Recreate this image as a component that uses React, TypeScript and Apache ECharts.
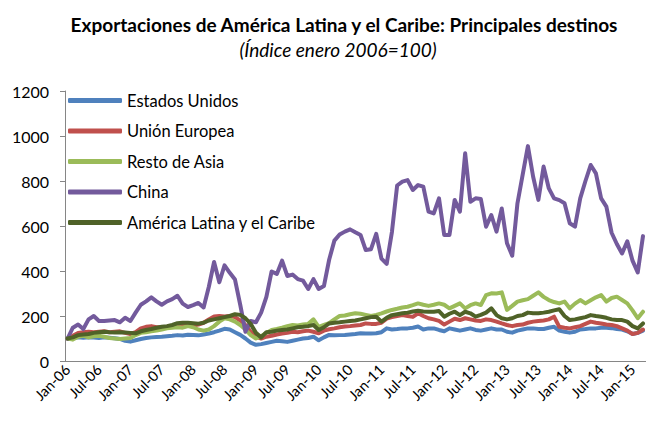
import React, { useEffect, useRef } from "react";
import * as echarts from "echarts";

const monthNames = ["Jan", "Feb", "Mar", "Apr", "May", "Jun", "Jul", "Aug", "Sep", "Oct", "Nov", "Dec"];
const years = [2006, 2007, 2008, 2009, 2010, 2011, 2012, 2013, 2014, 2015];
const lastMonth2015 = 3; // Jan–Mar 2015

const categories: string[] = [];
years.forEach((y) => {
  const n = y === 2015 ? lastMonth2015 : 12;
  for (let m = 0; m < n; m++) categories.push(`${monthNames[m]}-${String(y % 100).padStart(2, "0")}`);
});

const seriesNames = ["Estados Unidos", "Unión Europea", "Resto de Asia", "China", "América Latina y el Caribe"];
const seriesColors = ["#4F81BD", "#C0504D", "#9BBB59", "#735A9C", "#4F6228"];

const estadosUnidos = [
  100, 102, 105, 103, 106, 104, 102, 105, 103, 101, 98, 90,
  86, 92, 98, 102, 105, 107, 108, 110, 112, 115, 113, 117,
  116, 114, 118, 122, 128, 135, 143, 140, 128, 116, 100, 82,
  72, 75, 80, 85, 90, 88, 85, 90, 95, 100, 102, 108,
  92, 105, 116, 114, 115, 116, 118, 120, 123, 122, 122, 123,
  128, 145, 140, 142, 145, 145, 148, 153, 140, 145, 145, 138,
  132, 145, 140, 135, 140, 145, 138, 135, 140, 145, 140, 140,
  130, 126, 135, 140, 145, 145, 142, 142, 148, 152, 135, 130,
  126, 130, 140, 142, 145, 145, 148, 148, 146, 142, 140, 132,
  120, 125, 135,
];

const unionEuropea = [
  100, 112, 125, 128, 130, 128, 130, 132, 128, 130, 132, 125,
  120, 128, 145, 152, 155, 150, 150, 152, 155, 158, 160, 158,
  158, 162, 170, 185, 198, 200, 198, 200, 195, 180, 160, 130,
  108, 100, 108, 112, 118, 122, 125, 130, 128, 132, 135, 130,
  123, 135, 141, 145, 150, 153, 155, 158, 160, 167, 165, 165,
  170, 188, 195, 200, 204, 200, 196, 212, 200, 190, 185, 178,
  162, 175, 188, 182, 190, 185, 180, 178, 185, 182, 175, 167,
  160, 155, 160, 162, 170, 175, 178, 180, 185, 197, 152, 148,
  145, 150, 155, 165, 175, 170, 167, 162, 160, 155, 145, 135,
  120, 125, 140,
];

const restoAsia = [
  100, 95, 108, 112, 105, 110, 112, 108, 102, 100, 98, 100,
  102, 115, 125, 128, 132, 135, 140, 145, 148, 150, 148, 155,
  150, 140, 135, 140, 155, 175, 190, 185, 175, 160, 140, 115,
  100, 110, 125, 138, 142, 148, 155, 160, 158, 162, 165, 185,
  152, 160, 168, 185, 200, 202, 208, 212, 210, 205, 200, 205,
  212, 220, 227, 232, 238, 241, 248, 256, 250, 245, 250, 256,
  250, 234, 245, 256, 234, 248, 256, 249, 293, 301, 300, 305,
  227, 245, 264, 270, 275, 290, 305, 285, 271, 262, 256, 264,
  234, 255, 271, 256, 270, 283, 293, 264, 280, 286, 271, 256,
  225, 190, 219,
];

const china = [
  100, 148, 162, 142, 185, 200, 178, 178, 180, 182, 172, 192,
  178, 215, 250, 265, 283, 265, 250, 265, 275, 290, 255, 240,
  248, 258, 238, 330, 440, 350, 425, 392, 362, 250, 130, 178,
  172, 215, 285, 398, 387, 446, 378, 384, 364, 357, 320, 364,
  320, 333, 450, 535, 562, 575, 585, 572, 560, 493, 497, 565,
  455, 432, 573, 780, 797, 804, 760, 782, 775, 664, 656, 723,
  560, 560, 716, 664, 923, 708, 723, 720, 597, 649, 575, 678,
  523, 468, 701, 828, 955, 819, 716, 864, 767, 723, 715, 701,
  612, 597, 723, 800, 871, 834, 723, 686, 570, 520, 478, 532,
  446, 394, 555,
];

const americaLatina = [
  100, 105, 115, 118, 120, 125, 128, 130, 128, 127, 128, 127,
  125, 123, 132, 138, 142, 148, 152, 155, 160, 168, 170, 170,
  168, 166, 170, 180, 185, 190, 195, 200, 208, 205, 190, 165,
  125, 105, 128, 130, 135, 138, 140, 145, 150, 152, 155, 160,
  138, 150, 167, 170, 172, 175, 178, 180, 185, 190, 195, 197,
  175, 192, 204, 208, 212, 215, 220, 223, 220, 219, 219, 222,
  197, 210, 219, 204, 219, 212, 197, 205, 215, 234, 204, 190,
  185, 190, 200, 204, 215, 212, 212, 215, 219, 225, 230, 200,
  182, 185, 190, 195, 204, 200, 197, 192, 185, 182, 182, 175,
  155, 145, 167,
];

const seriesData = [estadosUnidos, unionEuropea, restoAsia, china, americaLatina];

const titleText = "Exportaciones de América Latina y el Caribe: Principales destinos";
const subtitleText = "(Índice enero 2006=100)";

export default function App() {
  const ref = useRef<HTMLDivElement>(null);
  useEffect(() => {
    if (!ref.current) return;
    const chart = echarts.init(ref.current, undefined, { renderer: "svg" });
    chart.setOption({
      animation: false,
      backgroundColor: "#ffffff",
      textStyle: { fontFamily: "Lato" },
      graphic: [
        {
          type: "text",
          x: 344,
          y: 24,
          style: {
            text: titleText,
            align: "center",
            verticalAlign: "middle",
            fontFamily: "Lato",
            fontWeight: "bold",
            fontSize: 19,
            fill: "#000",
          },
        },
        {
          type: "text",
          x: 338,
          y: 49,
          style: {
            text: subtitleText,
            align: "center",
            verticalAlign: "middle",
            fontFamily: "Lato",
            fontStyle: "italic",
            fontSize: 19,
            fill: "#000",
          },
        },
      ],
      legend: {
        orient: "vertical",
        left: 63,
        top: 87,
        icon: "roundRect",
        itemWidth: 54,
        itemHeight: 5,
        itemGap: 13.5,
        data: seriesNames,
        textStyle: { fontFamily: "Lato", fontSize: 16.5, color: "#000", lineHeight: 16 },
      },
      grid: { left: 65, right: 0.4, top: 91, bottom: 60, containLabel: false },
      xAxis: {
        type: "category",
        data: categories,
        boundaryGap: true,
        axisLine: { lineStyle: { color: "#868686", width: 1 } },
        axisTick: { interval: 5, length: 5, lineStyle: { color: "#868686" } },
        axisLabel: { interval: 5, rotate: 45, fontSize: 14.5, color: "#000", fontFamily: "Lato", margin: 6 },
        splitLine: { show: false },
      },
      yAxis: {
        type: "value",
        min: 0,
        max: 1200,
        interval: 200,
        axisLine: { show: true, lineStyle: { color: "#868686", width: 1 } },
        axisTick: { show: true, length: 5, lineStyle: { color: "#868686" } },
        axisLabel: {
          fontSize: 16,
          color: "#000",
          fontFamily: "Lato",
          margin: 16,
          formatter: (v: number) => String(v),
        },
        splitLine: { show: false },
      },
      series: seriesNames.map((name, i) => ({
        name,
        type: "line",
        data: seriesData[i],
        showSymbol: false,
        symbol: "none",
        color: seriesColors[i],
        lineStyle: { width: 4, color: seriesColors[i], cap: "round", join: "round" },
      })),
    });
    return () => chart.dispose();
  }, []);
  return <div ref={ref} style={{ width: 646, height: 421, position: "absolute", left: 0, top: 0 }} />;
}
